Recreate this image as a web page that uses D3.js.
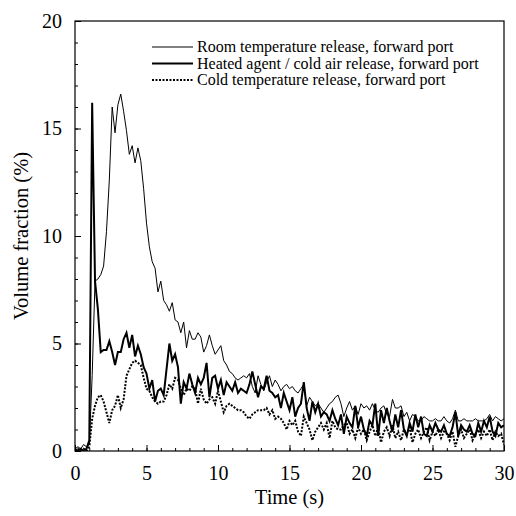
<!DOCTYPE html>
<html>
<head>
<meta charset="utf-8">
<script src="https://cdn.jsdelivr.net/npm/d3@7"></script>
<style>
  body { margin: 0; background: #fff; }
  svg { display: block; font-family: "Liberation Serif", "DejaVu Serif", serif; }
</style>
</head>
<body>
<svg width="516" height="516"></svg>
<script>
// time (s), sampled every 0.2 s
var time = [
  0,0.2,0.4,0.6,0.8,1,1.2,1.4,1.6,1.8,
  2,2.2,2.4,2.6,2.8,3,3.2,3.4,3.6,3.8,
  4,4.2,4.4,4.6,4.8,5,5.2,5.4,5.6,5.8,
  6,6.2,6.4,6.6,6.8,7,7.2,7.4,7.6,7.8,
  8,8.2,8.4,8.6,8.8,9,9.2,9.4,9.6,9.8,
  10,10.2,10.4,10.6,10.8,11,11.2,11.4,11.6,11.8,
  12,12.2,12.4,12.6,12.8,13,13.2,13.4,13.6,13.8,
  14,14.2,14.4,14.6,14.8,15,15.2,15.4,15.6,15.8,
  16,16.2,16.4,16.6,16.8,17,17.2,17.4,17.6,17.8,
  18,18.2,18.4,18.6,18.8,19,19.2,19.4,19.6,19.8,
  20,20.2,20.4,20.6,20.8,21,21.2,21.4,21.6,21.8,
  22,22.2,22.4,22.6,22.8,23,23.2,23.4,23.6,23.8,
  24,24.2,24.4,24.6,24.8,25,25.2,25.4,25.6,25.8,
  26,26.2,26.4,26.6,26.8,27,27.2,27.4,27.6,27.8,
  28,28.2,28.4,28.6,28.8,29,29.2,29.4,29.6,29.8,
  30
]

var roomTemp = [
  0.1,0.2,0.1,0.3,0.2,0.3,3.5,7.9,8.0,8.2,
  8.6,10.2,12.6,16.0,14.8,16.1,16.6,15.8,14.9,13.8,
  14.2,13.4,14.1,13.5,12.2,10.6,9.5,8.8,8.5,7.4,
  7.9,7.0,6.8,6.5,6.9,6.1,6.0,5.5,6.0,4.8,
  5.6,5.2,5.2,5.5,5.3,4.6,4.9,5.4,4.9,4.5,
  4.7,4.9,4.2,4.0,3.7,3.6,3.4,3.3,3.4,3.5,
  3.4,3.6,3.0,2.7,3.5,3.1,2.8,3.2,3.5,3.0,
  3.3,3.1,2.8,3.0,3.1,2.9,3.0,2.8,2.7,2.9,
  3.1,2.1,2.5,2.3,2.1,2.2,2.0,1.8,2.0,2.2,
  2.3,2.5,2.6,2.2,1.6,2.0,2.3,1.9,2.1,1.7,
  2.2,2.0,2.1,1.9,2.2,1.9,1.8,2.0,2.1,1.7,
  1.6,2.4,2.0,2.0,2.1,1.6,1.8,1.4,1.7,1.6,
  1.4,1.4,1.6,1.5,1.4,1.4,1.5,1.4,1.4,1.6,
  1.4,1.3,1.5,1.9,1.4,1.4,1.5,1.4,1.4,1.4,
  1.5,1.4,1.4,1.4,1.5,1.7,1.4,1.6,1.5,1.4,
  1.5
]

var heatedAgent = [
  0.1,0.0,0.1,0.0,0.1,0.5,16.2,7.9,6.6,4.6,
  4.7,4.7,5.1,4.6,4.0,4.6,4.6,5.2,5.5,4.8,
  5.4,4.4,4.9,4.5,3.9,3.6,2.9,3.3,2.3,2.8,
  2.9,2.6,3.8,5.0,4.2,4.5,3.9,2.2,3.2,2.9,
  3.6,3.1,2.7,3.4,3.1,3.4,4.1,2.5,3.4,3.5,
  2.9,3.3,2.6,3.2,3.0,2.8,3.2,2.7,2.9,2.8,
  2.7,3.1,3.7,3.1,2.5,3.0,2.9,3.5,2.8,2.7,
  2.5,2.6,2.0,2.7,2.3,1.9,2.5,1.6,2.0,2.2,
  3.2,2.0,1.4,2.3,1.8,2.2,1.6,1.8,1.7,1.4,
  1.9,1.5,1.2,1.7,0.8,1.6,1.3,1.1,2.1,1.1,
  1.6,1.0,0.7,1.4,1.2,2.2,0.7,1.9,1.3,2.0,
  1.4,0.9,1.7,1.1,1.9,1.0,0.7,1.3,0.9,1.7,
  1.1,1.6,0.8,0.7,1.2,0.9,1.3,1.0,0.9,1.2,
  0.8,0.7,1.1,1.8,0.7,1.2,1.0,0.9,1.2,0.8,
  0.7,1.3,0.9,1.4,1.1,1.6,0.9,0.7,1.3,1.1,
  1.2
]

var coldTemp = [
  0.0,0.1,0.0,0.1,0.0,0.2,1.5,2.1,2.5,2.6,
  2.3,1.8,1.3,1.9,2.1,2.6,2.0,2.4,3.5,3.8,
  4.1,4.2,4.1,4.0,3.4,2.9,2.8,2.5,2.3,2.2,
  2.3,2.3,2.6,3.1,2.9,3.4,3.3,2.9,2.6,2.9,
  2.8,3.0,2.9,2.2,2.9,2.4,2.2,2.4,2.5,2.2,
  2.8,2.3,1.8,2.1,2.2,2.1,2.0,1.9,1.9,1.8,
  1.6,1.5,1.7,1.8,1.9,1.9,1.9,2.0,1.7,1.9,
  1.5,1.6,1.5,1.3,1.0,1.4,1.2,1.4,0.9,0.7,
  1.6,1.3,1.0,0.5,0.9,1.1,1.3,1.0,1.3,0.6,
  1.4,1.1,1.0,1.0,1.2,1.3,0.8,1.0,0.6,1.1,
  0.8,1.0,0.5,0.9,1.2,0.7,1.1,0.4,0.9,1.1,
  0.7,1.2,0.6,0.9,0.5,1.0,0.8,1.1,0.4,0.8,
  1.0,0.6,0.9,1.1,0.5,0.9,0.7,1.0,0.6,0.9,
  0.8,0.5,0.9,0.2,0.7,1.0,0.6,0.8,1.0,0.5,
  0.8,1.0,0.6,0.9,0.7,1.0,0.5,0.9,0.7,0.8,
  0.3
]

var legendLabels = [
  "Room temperature release, forward port",
  "Heated agent / cold air release, forward port",
  "Cold temperature release, forward port"
]
var xTicks = [0, 5, 10, 15, 20, 25, 30]
var yTicks = [0, 5, 10, 15, 20]

var svg = d3.select("svg"),
    margin = {top: 21, right: 12, bottom: 65, left: 75},
    width = 516 - margin.left - margin.right,
    height = 516 - margin.top - margin.bottom,
    g = svg.append("g").attr("transform", "translate(" + margin.left + "," + margin.top + ")")

var x = d3.scaleLinear().domain([0, 30]).range([0, width])
var y = d3.scaleLinear().domain([0, 20]).range([height, 0])

var styles = [
  {width: 1, dash: null},
  {width: 2, dash: null},
  {width: 2, dash: "2,1.5"}
]
var series = [roomTemp, heatedAgent, coldTemp]

var line = d3.line()
  .x(function(d) { return x(d[0]) })
  .y(function(d) { return y(d[1]) })

g.append("defs").append("clipPath").attr("id", "clip")
  .append("rect").attr("width", width).attr("height", height)

series.forEach(function(s, i) {
  g.append("path")
    .datum(time.map(function(t, j) { return [t, s[j]] }))
    .attr("clip-path", "url(#clip)")
    .attr("fill", "none")
    .attr("stroke", "#000")
    .attr("stroke-width", styles[i].width)
    .attr("stroke-dasharray", styles[i].dash)
    .attr("d", line)
})

// minor ticks (inward)
var xMinor = d3.range(0, 31, 1), yMinor = d3.range(0, 21, 1)
g.append("g").attr("transform", "translate(0," + height + ")")
  .call(d3.axisBottom(x).tickValues(xMinor).tickSize(-3).tickFormat(""))
  .call(function(a) { a.select(".domain").remove() })
g.append("g")
  .call(d3.axisLeft(y).tickValues(yMinor).tickSize(-3).tickFormat(""))
  .call(function(a) { a.select(".domain").remove() })

// major ticks with labels
var xAxis = g.append("g").attr("transform", "translate(0," + height + ")")
  .call(d3.axisBottom(x).tickValues(xTicks).tickSize(-6).tickPadding(15))
xAxis.select(".domain").remove()
xAxis.selectAll("text").attr("font-size", 20).attr("font-family", "Liberation Serif")

var yAxis = g.append("g")
  .call(d3.axisLeft(y).tickValues(yTicks).tickSize(-6).tickPadding(13))
yAxis.select(".domain").remove()
yAxis.selectAll("text").attr("font-size", 20).attr("font-family", "Liberation Serif")

svg.selectAll(".tick line").attr("stroke", "#000")

// frame
g.append("rect")
  .attr("width", width).attr("height", height)
  .attr("fill", "none").attr("stroke", "#000").attr("stroke-width", 1.2)

// axis titles
svg.append("text")
  .attr("x", margin.left + width / 2).attr("y", 504)
  .attr("text-anchor", "middle").attr("font-size", 20.5)
  .text("Time (s)")

svg.append("text")
  .attr("transform", "translate(28," + (margin.top + height / 2) + ") rotate(-90)")
  .attr("text-anchor", "middle").attr("font-size", 20.5)
  .text("Volume fraction (%)")

// legend
var legend = g.append("g").attr("transform", "translate(77,26)")
legendLabels.forEach(function(label, i) {
  var row = legend.append("g").attr("transform", "translate(0," + (i * 16.5) + ")")
  row.append("line")
    .attr("x1", 0).attr("x2", 41).attr("y1", 0).attr("y2", 0)
    .attr("stroke", "#000")
    .attr("stroke-width", styles[i].width)
    .attr("stroke-dasharray", styles[i].dash)
  row.append("text")
    .attr("x", 45).attr("y", 5)
    .attr("font-size", 16)
    .text(label)
})
</script>
</body>
</html>
